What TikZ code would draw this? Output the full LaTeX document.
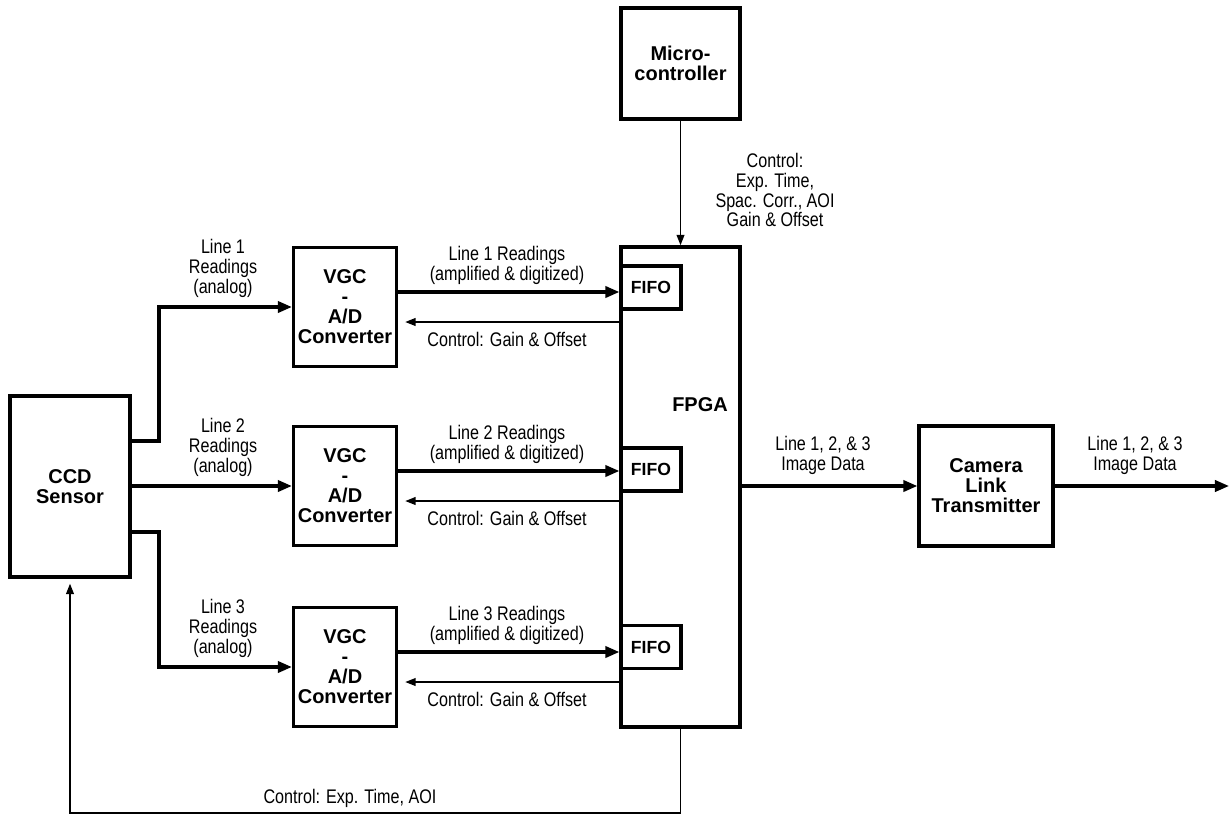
\documentclass[tikz,border=0pt]{standalone}
\usepackage{fontspec}
\setmainfont{Liberation Sans}
\newfontfamily\narrowfont{Liberation Sans}[FakeStretch=0.82]
\usetikzlibrary{arrows.meta}

\begin{document}
\begin{tikzpicture}[x=0.025cm, y=-0.025cm,
    box/.style={draw, line width=2.3pt, inner sep=0pt, align=center,
        font=\bfseries\fontsize{14.2}{14.2}\selectfont},
    sig/.style={line width=2.2pt, -{Triangle[length=10pt,width=8pt]}},
    ctl/.style={line width=1.3pt, -{Triangle[length=7.5pt,width=5.5pt]}},
    lbl/.style={align=center, inner sep=0pt,
        font=\narrowfont\fontsize{14}{14.2}\selectfont}]

    \useasboundingbox (0,0) rectangle (1229,816);

    % Blocks
    \node[box, minimum width=3cm, minimum height=4.525cm] (ccd) at (70,486.5) {CCD\\Sensor};
    \node[box, minimum width=2.975cm, minimum height=12cm] (fpga) at (680.5,487) {};
    \node[font=\bfseries\fontsize{14.2}{14.2}\selectfont] (fpgatxt) at (700,405) {FPGA};
    \node[box, minimum width=2.975cm, minimum height=2.775cm] (micro) at (680.5,63.5) {Micro-\\controller};
    \node[box, minimum width=3.35cm, minimum height=3cm] (cam) at (986,486) {Camera\\Link\\Transmitter};

    % Channels
    \foreach \i/\v/\f/\r in {1/307/287.5/292, 2/486/469.5/471, 3/667/647/652} {
        \node[box, minimum width=2.575cm, minimum height=2.975cm] (vgc\i) at (345,\v) {VGC\\-\\A/D\\Converter};
        \node[box, minimum width=1.5cm, minimum height=1.075cm,
            font=\bfseries\fontsize{12.5}{14}\selectfont] (fifo\i) at (651,\f) {FIFO};
        \draw[sig] (vgc\i.east |- 0,\r) -- (fifo\i.west |- 0,\r);
        \draw[ctl, shorten >=5pt] (fpga.west |- 0,\r+30) -- (vgc\i.east |- 0,\r+30);
        \node[lbl] (rd\i) at (507,\r-27) {Line \i{} Readings\\(amplified \& digitized)};
        \node[lbl] (gc\i) at (507,\r+47) {Control: Gain \& Offset};
        \node[lbl] (an\i) at (223,\v-39) {Line \i\\Readings\\(analog)};
    }

    % Sensor outputs
    \draw[sig] (ccd.east |- 0,441) -| (159,307) -- (vgc1.west);
    \draw[sig] (ccd.east |- vgc2.west) -- (vgc2.west);
    \draw[sig] (ccd.east |- 0,532) -| (159,667) -- (vgc3.west);

    % Microcontroller and output
    \draw[ctl] (micro.south) -- (fpga.north);
    \node[lbl] (mctl) at (775,190) {Control:\\Exp. Time,\\Spac. Corr., AOI\\Gain \& Offset};
    \draw[sig] (fpga.east |- cam.west) -- (cam.west);
    \node[lbl] (imd1) at (823,455) {Line 1, 2, \& 3\\Image Data};
    \coordinate (out) at (1229,486);
    \draw[sig] (cam.east) -- (out);
    \node[lbl] (imd2) at (1135,455) {Line 1, 2, \& 3\\Image Data};

    % Feedback
    \coordinate (fb) at (70,813);
    \draw[ctl, shorten >=3.5pt] (fpga.south) |- (fb) -- (ccd.south);
    \node[lbl] (fbl) at (350,798) {Control: Exp. Time, AOI};

\end{tikzpicture}
\end{document}
